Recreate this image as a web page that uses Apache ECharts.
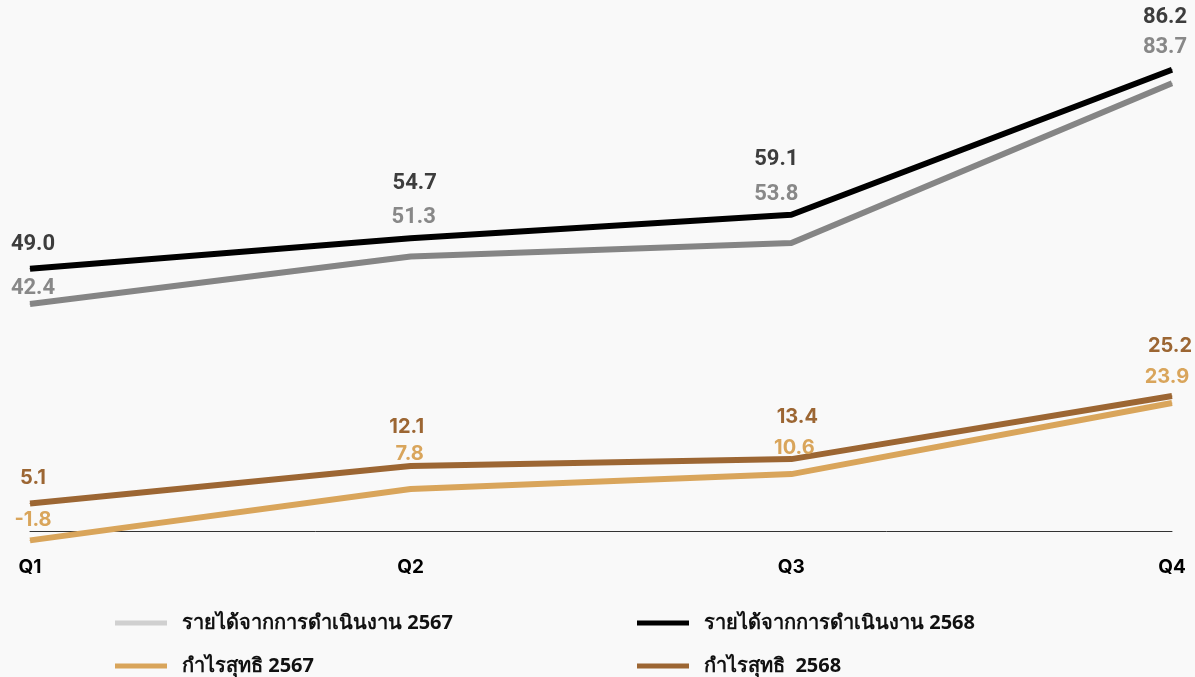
<!DOCTYPE html>
<html>
<head>
<meta charset="utf-8">
<script src="https://cdn.jsdelivr.net/npm/echarts@6/dist/echarts.min.js"></script>
<style>
html,body{margin:0;padding:0;background:#f9f9f9;}
#c{width:1195px;height:677px;}
</style>
</head>
<body>
<div id="c"></div>
<script>
const categories = ['Q1','Q2','Q3','Q4'];
const revenue2567 = [42.4, 51.3, 53.8, 83.7];
const revenue2568 = [49.0, 54.7, 59.1, 86.2];
const profit2567 = [-1.8, 7.8, 10.6, 23.9];
const profit2568 = [5.1, 12.1, 13.4, 25.2];
const seriesNames = ['รายได้จากการดำเนินงาน 2567','รายได้จากการดำเนินงาน 2568','กำไรสุทธิ 2567','กำไรสุทธิ  2568'];

// label offsets (style only)
const offRev2567 = [[3,-16],[3,-39],[-15,-49],[-7,-36]];
const offRev2568 = [[3,-24],[4,-55],[-15,-55],[-7,-52]];
const offPro2567 = [[3,-20],[-1,-35],[3,-26],[-5,-26]];
const offPro2568 = [[3,-26],[-4,-39],[6,-42],[-2,-50]];

function mk(name, vals, offs, color, labelColor, font){
  return {
    name: name, type: 'line', symbol: 'circle', symbolSize: 1, showSymbol: true,
    lineStyle: {color: color, width: 6},
    itemStyle: {color: color},
    emphasis: {disabled: true},
    data: vals.map((v,i)=>({value: v, label: {offset: offs[i]}})),
    label: {show: true, position: 'inside', color: labelColor, fontFamily: font,
      fontWeight: 'bold', fontSize: font === 'Roboto' ? 22 : 20,
      formatter: p => p.value.toFixed(1)}
  };
}

const chart = echarts.init(document.getElementById('c'));
const legendText = {color:'#111', fontSize:20, fontWeight:'bold', fontFamily:'"Noto Sans", sans-serif', padding:[0,0,0,10]};
function leg(name, left, top, color){
  return {left:left, top:top, icon:'rect', itemWidth:52, itemHeight:5, itemGap:20,
    textStyle: legendText, selectedMode:false,
    data:[{name:name, itemStyle:{color:color}}]};
}
chart.setOption({
  backgroundColor: '#f9f9f9',
  animation: false,
  grid: {left: 30, right: 23, top: 49.5, bottom: 119.5},
  legend: [
    leg(seriesNames[0], 110, 608, '#d0d0d0'),
    leg(seriesNames[1], 632, 608, '#000000'),
    leg(seriesNames[2], 110, 651, '#d9a55b'),
    leg(seriesNames[3], 632, 651, '#9c6633')
  ],
  xAxis: {
    type: 'category', data: categories, boundaryGap: false,
    axisLine: {onZero: true, lineStyle: {color: '#333', width: 1}},
    axisTick: {show: false},
    axisLabel: {margin: 0, color: '#000', fontSize: 19, fontWeight: 'bold', fontFamily: 'Inter'}
  },
  yAxis: {type: 'value', min: -5, max: 90, show: false, splitLine: {show: false}},
  series: [
    mk(seriesNames[0], revenue2567, offRev2567, '#858585', '#888888', 'Roboto'),
    mk(seriesNames[1], revenue2568, offRev2568, '#000000', '#3d3d3d', 'Roboto'),
    mk(seriesNames[2], profit2567, offPro2567, '#d9a55b', '#d9a55b', 'Inter'),
    mk(seriesNames[3], profit2568, offPro2568, '#9c6633', '#9c6633', 'Inter')
  ]
});
</script>
</body>
</html>
